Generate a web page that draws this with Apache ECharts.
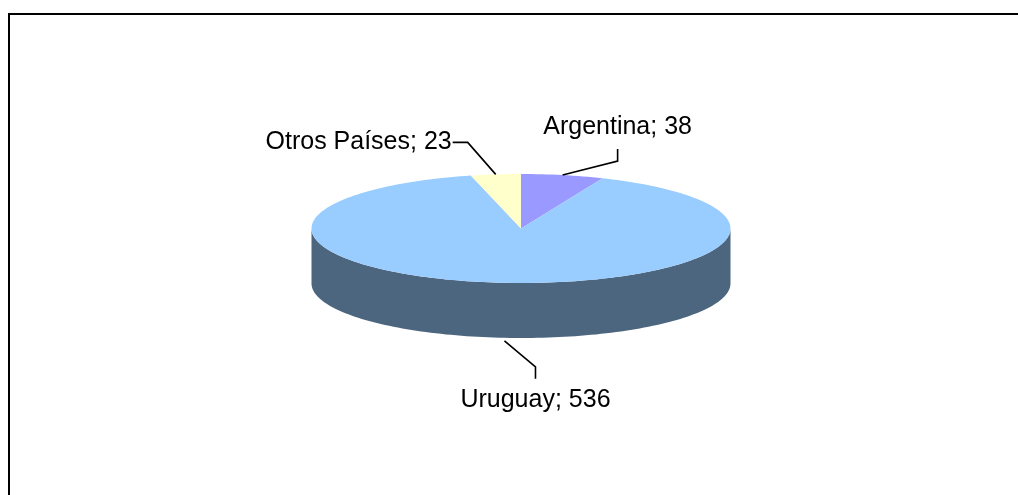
<!DOCTYPE html>
<html>
<head>
<meta charset="utf-8">
<script src="https://cdn.jsdelivr.net/npm/echarts@6/dist/echarts.min.js"></script>
<style>
  html, body { margin: 0; padding: 0; background: #fff; }
  #main { width: 1018px; height: 495px; }
</style>
</head>
<body>
<div id="main"></div>
<script>
var myChart = echarts.init(document.getElementById('main'));

// data, in clockwise order starting from 12 o'clock
var categories = ['Argentina', 'Uruguay', 'Otros Países'];
var values = [38, 536, 23];

// colours: top face and side wall
var topColors = ['#9999FF', '#99CCFF', '#FFFFCC'];
var sideColors = ['#5C5C99', '#4D6680', '#99997A'];

// ellipse geometry of the 3D pie
var pie = { cx: 521, cy: 228.5, rx: 209.5, ry: 54.5, depth: 55 };

// leader line shapes (offsets from the slice anchor), Excel style
var leaders = [
    { elbow: [55, -14], tail: [0, -12], text: [0, -22], align: 'center' },
    { elbow: [31, 26], tail: [0, 12], text: [0, 21], align: 'center' },
    { elbow: [-28, -32], tail: [-15, 0], text: [-1, 0], align: 'right' }
];

var total = values.reduce(function (a, b) { return a + b; }, 0);
var starts = [];
var acc = 0;
values.forEach(function (v) { starts.push(acc / total * 360); acc += v; });

function pt(deg, dy) {
    var r = deg * Math.PI / 180;
    return [pie.cx + pie.rx * Math.sin(r), pie.cy - pie.ry * Math.cos(r) + (dy || 0)];
}

function arc(a, b, dy) {
    var pts = [];
    var n = Math.max(2, Math.ceil((b - a) / 1.5));
    for (var i = 0; i <= n; i++) pts.push(pt(a + (b - a) * i / n, dy));
    return pts;
}

function renderItem(params, api) {
    var i = params.dataIndex;
    var v = api.value(0);
    var a = starts[i];
    var b = a + v / total * 360;
    var children = [];

    // side wall, only the front half is visible
    var lo = Math.max(a, 90), hi = Math.min(b, 270);
    if (lo < hi) {
        var upper = arc(lo, hi, 0);
        var lower = arc(lo, hi, pie.depth).reverse();
        children.push({
            type: 'polygon', z2: 1,
            shape: { points: upper.concat(lower) },
            style: { fill: sideColors[i] }
        });
    }

    // top face
    children.push({
        type: 'polygon', z2: 2,
        shape: { points: [[pie.cx, pie.cy]].concat(arc(a, b, 0)) },
        style: { fill: topColors[i] }
    });

    // label with leader line
    var mid = (a + b) / 2;
    var front = mid > 90 && mid < 270;
    var p0 = pt(mid, front ? pie.depth + 3 : 0);
    var L = leaders[i];
    var p1 = [p0[0] + L.elbow[0], p0[1] + L.elbow[1]];
    var p2 = [p1[0] + L.tail[0], p1[1] + L.tail[1]];
    children.push({
        type: 'polyline', z2: 3,
        shape: { points: [p0, p1, p2] },
        style: { stroke: '#000', lineWidth: 1.6, fill: null }
    });
    children.push({
        type: 'text', z2: 3,
        style: {
            text: categories[i] + '; ' + v,
            x: p2[0] + L.text[0],
            y: p2[1] + L.text[1],
            align: L.align,
            verticalAlign: 'middle',
            fill: '#000',
            font: '25px "Liberation Sans", Arial, sans-serif'
        }
    });

    return { type: 'group', children: children };
}

option = {
    backgroundColor: '#fff',
    animation: false,
    graphic: [{
        type: 'rect',
        shape: { x: 9, y: 14, width: 1200, height: 700 },
        style: { fill: null, stroke: '#000', lineWidth: 2 },
        z: 0
    }],
    series: [{
        type: 'custom',
        coordinateSystem: 'none',
        renderItem: renderItem,
        data: values.map(function (v, i) { return { name: categories[i], value: [v] }; })
    }]
};

myChart.setOption(option);
window.onresize = myChart.resize;
</script>
</body>
</html>
